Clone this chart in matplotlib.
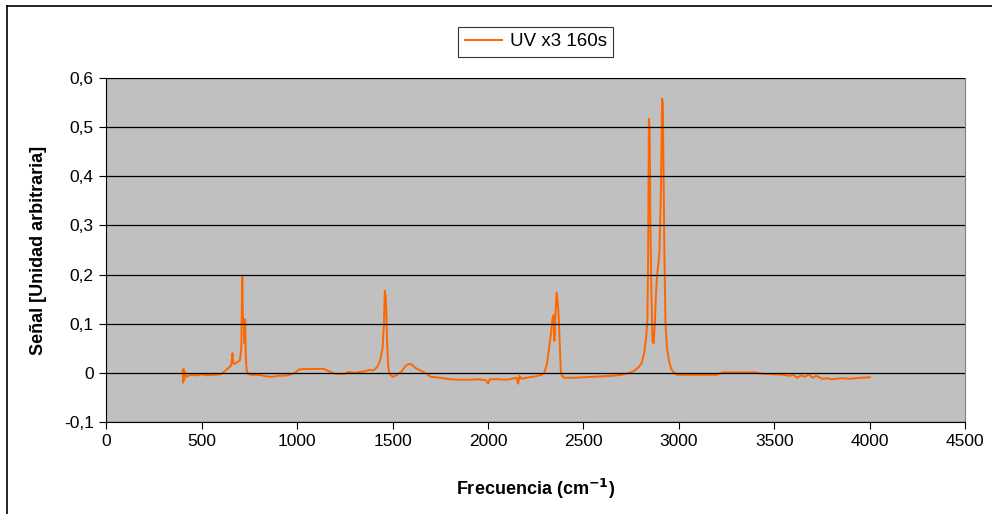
import numpy as np
import matplotlib.pyplot as plt
from matplotlib.lines import Line2D
from matplotlib.ticker import FuncFormatter

plt.rcParams["font.family"] = ["Liberation Sans", "DejaVu Sans"]

# espectro (frecuencia cm-1, senal)
freq = [400, 403, 406, 409, 412, 420, 440, 470, 500, 530, 560, 600, 620, 640, 655,
        662, 666, 672, 685, 700, 708, 713, 716, 719, 722, 725, 728, 732, 736, 742,
        760, 800, 840, 870, 900, 950, 990, 1010, 1050, 1100, 1140, 1170, 1200, 1250,
        1270, 1300, 1350, 1380, 1400, 1420, 1435, 1448, 1455, 1460, 1464, 1468, 1472,
        1478, 1485, 1500, 1520, 1550, 1570, 1585, 1600, 1620, 1650, 1680, 1700, 1750,
        1800, 1850, 1900, 1950, 1990, 2000, 2010, 2050, 2100, 2150, 2158, 2165, 2175,
        2200, 2250, 2280, 2295, 2310, 2320, 2330, 2338, 2345, 2348, 2352, 2356, 2360,
        2364, 2370, 2376, 2382, 2390, 2400, 2450, 2500, 2550, 2600, 2650, 2700, 2740,
        2770, 2790, 2805, 2818, 2828, 2835, 2839, 2843, 2847, 2851, 2856, 2862, 2868,
        2874, 2880, 2886, 2892, 2898, 2905, 2909, 2912, 2916, 2920, 2924, 2930, 2938,
        2948, 2960, 2975, 2990, 3050, 3100, 3150, 3200, 3230, 3300, 3400, 3420, 3450,
        3500, 3550, 3580, 3600, 3620, 3640, 3660, 3680, 3700, 3720, 3750, 3780, 3800,
        3850, 3900, 3950, 4000]
senal = [0.005, -0.02, 0.008, -0.015, 0.002, -0.008, -0.004, -0.005, -0.003, -0.005, -0.004, -0.003, 0.003, 0.01, 0.015,
         0.04, 0.02, 0.018, 0.022, 0.025, 0.05, 0.198, 0.12, 0.1, 0.11, 0.06, 0.108, 0.03, 0.005, -0.002,
         -0.004, -0.004, -0.007, -0.008, -0.006, -0.005, 0.0, 0.007, 0.008, 0.008, 0.008, 0.003, -0.002, -0.002,
         0.002, 0.0, 0.003, 0.006, 0.005, 0.012, 0.025, 0.05, 0.1, 0.167, 0.155, 0.12, 0.06,
         0.01, -0.002, -0.008, -0.005, 0.004, 0.015, 0.018, 0.017, 0.01, 0.004, -0.002, -0.008, -0.01,
         -0.013, -0.014, -0.014, -0.013, -0.015, -0.022, -0.013, -0.013, -0.014, -0.01, -0.022, -0.006, -0.012,
         -0.01, -0.007, -0.004, 0.0, 0.02, 0.05, 0.08, 0.11, 0.118, 0.065, 0.1, 0.14, 0.163,
         0.15, 0.12, 0.06, 0.0, -0.007, -0.01, -0.01, -0.009, -0.008, -0.007, -0.006, -0.004, 0.0,
         0.005, 0.012, 0.02, 0.04, 0.07, 0.106, 0.235, 0.517, 0.5, 0.3, 0.167, 0.065, 0.06,
         0.1, 0.16, 0.2, 0.22, 0.245, 0.35, 0.45, 0.558, 0.55, 0.4, 0.25, 0.1, 0.05,
         0.025, 0.008, 0.0, -0.004, -0.004, -0.004, -0.004, -0.004, 0.001, 0.001, 0.001, -0.001, -0.002,
         -0.003, -0.004, -0.006, -0.004, -0.01, -0.005, -0.008, -0.003, -0.01, -0.006, -0.012, -0.011, -0.013,
         -0.011, -0.012, -0.01, -0.009]

fig = plt.figure(figsize=(9.92, 5.14), dpi=100)
ax = fig.add_axes([0.107, 0.179, 0.866, 0.669])
ax.set_facecolor("#C0C0C0")

ax.plot(freq, senal, color="#FF6600", linewidth=1.4, label="UV x3 160s")

ax.set_xlim(0, 4500)
ax.set_ylim(-0.1, 0.6)
ax.set_xticks(np.arange(0, 4501, 500))
ax.set_yticks(np.arange(-0.1, 0.61, 0.1))
ax.yaxis.set_major_formatter(FuncFormatter(lambda v, p: ("%.1f" % v).replace(".", ",") if abs(v) > 1e-9 else "0"))
ax.tick_params(labelsize=12.5, direction="out", length=5, width=0.8, pad=4)
ax.grid(axis="y", color="black", linewidth=0.9)
ax.set_axisbelow(False)

ax.spines["left"].set_color("black")
ax.spines["bottom"].set_color("black")
ax.spines["top"].set_color("#808080")
ax.spines["right"].set_color("#808080")

ax.set_xlabel("Frecuencia (cm$^{\\mathbf{-1}}$)", fontsize=13, fontweight="bold", labelpad=20)
ax.set_ylabel("Señal [Unidad arbitraria]", fontsize=13, fontweight="bold", labelpad=12)

leg = ax.legend(loc="upper center", bbox_to_anchor=(0.5, 1.177), fontsize=13.5,
                frameon=True, fancybox=False, edgecolor="black", handlelength=2.0,
                borderpad=0.35, handletextpad=0.4)
leg.get_frame().set_linewidth(0.8)

# marco de la figura (solo arriba e izquierda visibles)
fig.add_artist(Line2D([7 / 992, 1], [1 - 6 / 514, 1 - 6 / 514], color="black", linewidth=1.2))
fig.add_artist(Line2D([7 / 992, 7 / 992], [0, 1 - 6 / 514], color="black", linewidth=1.2))

plt.savefig("out.png", dpi=100)
